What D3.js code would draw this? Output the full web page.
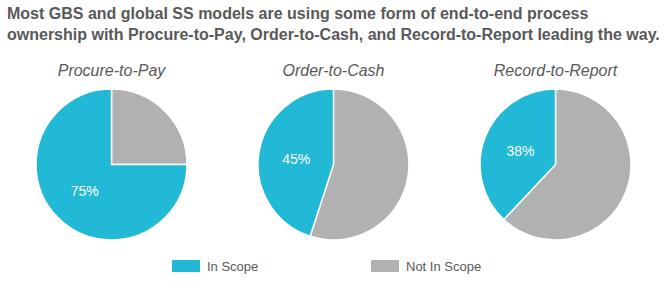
<!DOCTYPE html>
<html><head><meta charset="utf-8">
<script src="https://cdn.jsdelivr.net/npm/d3@7"></script>
<style>html,body{margin:0;padding:0;background:#fff;}svg{display:block;}</style>
</head><body>
<script>
const titleLines = ["Most GBS and global SS models are using some form of end-to-end process",
  "ownership with Procure-to-Pay, Order-to-Cash, and Record-to-Report leading the way."];
const processes = ["Procure-to-Pay", "Order-to-Cash", "Record-to-Report"];
const inScope = [75, 45, 38];
const notInScope = [25, 55, 62];
const seriesNames = ["In Scope", "Not In Scope"];
const colors = ["#22B9D6", "#B1B1B1"];

const W = 667, H = 287;
const svg = d3.select("body").append("svg").attr("width", W).attr("height", H);
const font = "'Liberation Sans', Arial, sans-serif";

svg.selectAll("text.title").data(titleLines).enter().append("text")
  .attr("x", 7).attr("y", (d, i) => 18.5 + i * 21)
  .attr("font-family", font).attr("font-weight", "bold").attr("font-size", 16)
  .attr("fill", "#595959").text(d => d);

const cx = d3.scalePoint().domain(processes).range([111.5, 555.5]);
const r = 75.5, cy = 164.5;
const pie = d3.pie().sort(null).value(d => d.v);
const arc = d3.arc().innerRadius(0).outerRadius(r);
const labelArc = d3.arc().innerRadius(r * 0.5).outerRadius(r * 0.5);

processes.forEach((p, i) => {
  const g = svg.append("g").attr("transform", `translate(${cx(p)},${cy})`);
  const data = [{k: seriesNames[1], v: notInScope[i]}, {k: seriesNames[0], v: inScope[i]}];
  const arcs = pie(data);
  g.selectAll("path").data(arcs).enter().append("path")
    .attr("d", arc)
    .attr("fill", d => d.data.k === seriesNames[0] ? colors[0] : colors[1])
    .attr("stroke", "#fff").attr("stroke-width", 1.5);
  const a = arcs[1];
  const c = labelArc.centroid({startAngle: a.startAngle, endAngle: a.endAngle});
  g.append("text").attr("x", c[0]).attr("y", c[1]).attr("dy", "0.35em")
    .attr("text-anchor", "middle").attr("font-family", font).attr("font-size", 14)
    .attr("fill", "#fff").text(d3.format(".0f")(inScope[i]) + "%");
  svg.append("text").attr("x", cx(p)).attr("y", 76).attr("text-anchor", "middle")
    .attr("font-family", font).attr("font-style", "italic").attr("font-size", 16)
    .attr("fill", "#595959").text(p);
});

const legX = [172, 371];
seriesNames.forEach((s, i) => {
  svg.append("rect").attr("x", legX[i]).attr("y", 260).attr("width", 28).attr("height", 12)
    .attr("fill", colors[i]);
  svg.append("text").attr("x", legX[i] + 35).attr("y", 271)
    .attr("font-family", font).attr("font-size", 13).attr("fill", "#595959").text(s);
});
</script>
</body></html>
